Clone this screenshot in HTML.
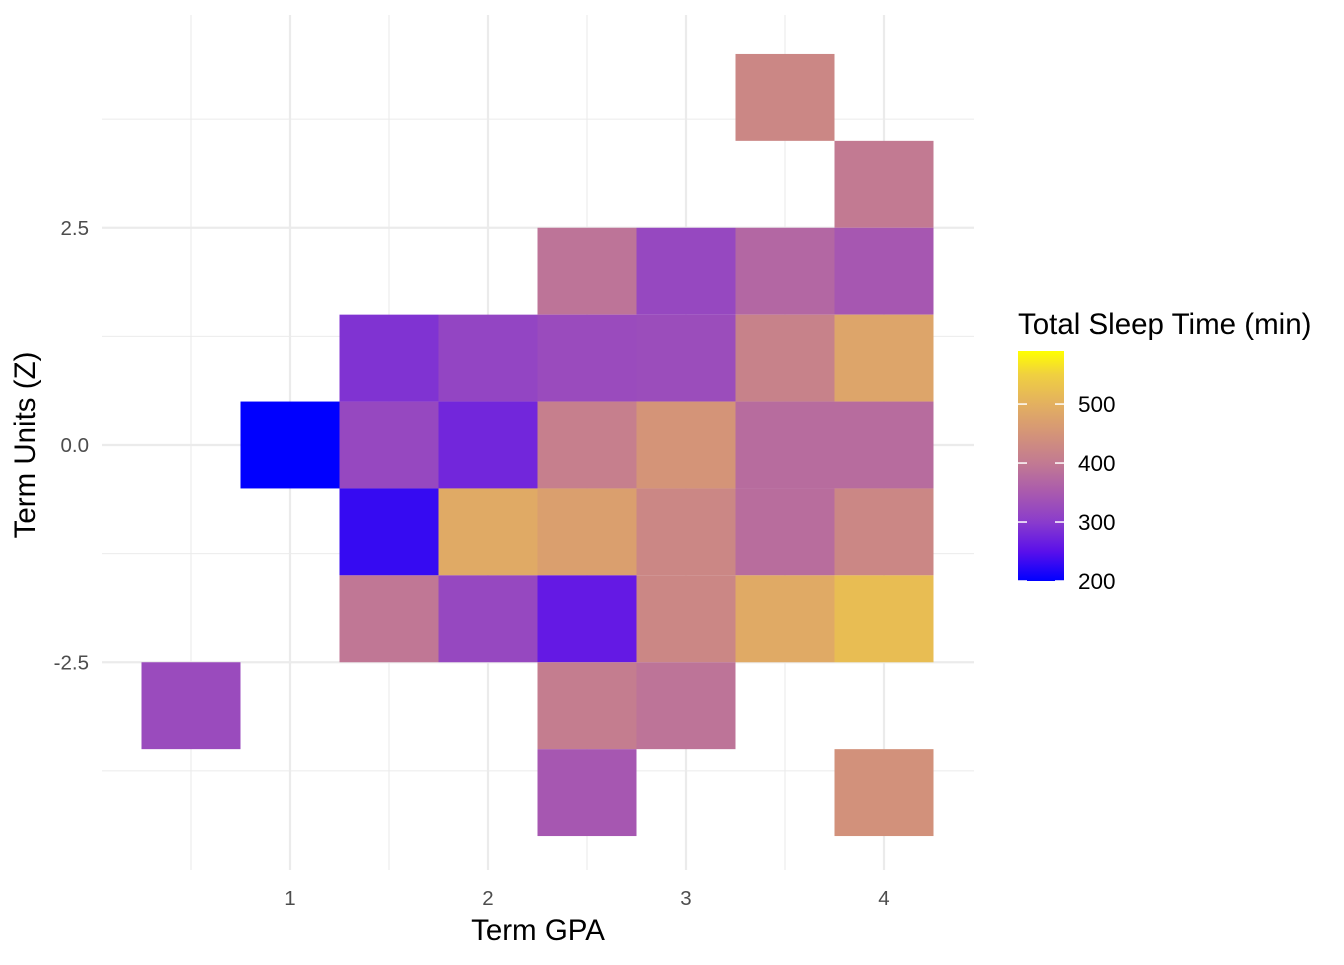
<!DOCTYPE html>
<html><head><meta charset="utf-8"><style>
body{margin:0;background:#fff;font-family:"Liberation Sans",sans-serif}
</style></head><body>
<svg id="chart" width="1344" height="960" xmlns="http://www.w3.org/2000/svg">
<defs><linearGradient id="cb" x1="0" y1="1" x2="0" y2="0"></linearGradient></defs>
<g id="grid"></g>
<g id="tiles"></g>
<g id="axes"></g>
<text x="538" y="940" font-size="29.5" text-anchor="middle" fill="#000">Term GPA</text>
<text transform="translate(35,445) rotate(-90)" font-size="29.5" text-anchor="middle" fill="#000">Term Units (Z)</text>
<g id="legend">
<text x="1018" y="334" font-size="29.5" fill="#000">Total Sleep Time (min)</text>
<rect x="1018" y="351" width="46" height="230" fill="url(#cb)"/>
</g>
</svg>
<script>
const xs=[3.5,4,2.5,3,3.5,4,1.5,2,2.5,3,3.5,4,1,1.5,2,2.5,3,3.5,4,1.5,2,2.5,3,3.5,4,1.5,2,2.5,3,3.5,4,0.5,2.5,3,2.5,4];
const ys=[4,3,2,2,2,2,1,1,1,1,1,1,0,0,0,0,0,0,0,-1,-1,-1,-1,-1,-1,-2,-2,-2,-2,-2,-2,-3,-3,-3,-4,-4];
const vals=[425,400,390,320,370,345,290,315,325,328,415,480,200,320,275,410,450,378,378,230,490,470,425,380,425,395,320,260,425,490,520,325,405,390,345,445];
const xTicks=[1,2,3,4];
const yTicks=[-2.5,0,2.5];
const legendTicks=[200,300,400,500];
const stopVals=[200,250,300,350,400,450,500,550,590];
const stopCols=["#0000ff","#5a10ea","#8a3ccc","#a95aae","#c27a92","#d49478","#e3b060","#f0d040","#ffff00"];
const NS="http://www.w3.org/2000/svg";
const X=v=>290+(v-1)*198, Y=v=>445-v*86.9;
const C=v=>(v-200)/(590-200);
function hex(h){return [1,3,5].map(i=>parseInt(h.substr(i,2),16));}
function col(v){
 for(let i=0;i<stopVals.length-1;i++){
  if(v<=stopVals[i+1]||i==stopVals.length-2){
   let t=Math.max(0,Math.min(1,(v-stopVals[i])/(stopVals[i+1]-stopVals[i])));
   let a=hex(stopCols[i]),b=hex(stopCols[i+1]);
   return "rgb("+a.map((x,k)=>Math.round(x+(b[k]-x)*t)).join(",")+")";
  }}
}
function el(tag,at,parent){const e=document.createElementNS(NS,tag);for(const k in at)e.setAttribute(k,at[k]);parent.appendChild(e);return e;}
const grid=document.getElementById('grid');
for(let v=0.5;v<=4.01;v+=0.5){const l=el('line',{x1:X(v),x2:X(v),y1:15,y2:870,stroke:'#ebebeb','stroke-width':v%1==0?2.2:1.1},grid);
}
for(let v=-3.75;v<=3.76;v+=1.25){const l=el('line',{x1:102,x2:974,y1:Y(v),y2:Y(v),stroke:'#ebebeb','stroke-width':Math.abs(v/2.5%1)<0.01?2.2:1.1},grid);
}
const tg=document.getElementById('tiles');
vals.forEach((v,i)=>{const r=el('rect',{x:X(xs[i]-0.25),y:Y(ys[i]+0.5),width:99,height:86.9,fill:col(v)},tg);
});
const ax=document.getElementById('axes');
xTicks.forEach(t=>{const e=el('text',{x:X(t),y:905,'font-size':20.5,'text-anchor':'middle',fill:'#4d4d4d'},ax);e.textContent=t;
});
yTicks.forEach(t=>{const e=el('text',{x:89,y:Y(t)+7,'font-size':20.5,'text-anchor':'end',fill:'#4d4d4d'},ax);e.textContent=t.toFixed(1);
});
const g=document.getElementById('cb');
stopVals.forEach((v,i)=>el('stop',{offset:C(v),'stop-color':stopCols[i]},g));
const lg=document.getElementById('legend');
legendTicks.forEach(t=>{const y=581-C(t)*230;
el('line',{x1:1018,x2:1027,y1:y,y2:y,stroke:'#fff','stroke-width':1.5},lg);
el('line',{x1:1055,x2:1064,y1:y,y2:y,stroke:'#fff','stroke-width':1.5},lg);
const e=el('text',{x:1078,y:y+8,'font-size':22.5,fill:'#000'},lg);e.textContent=t;
});
</script>
</body></html>
